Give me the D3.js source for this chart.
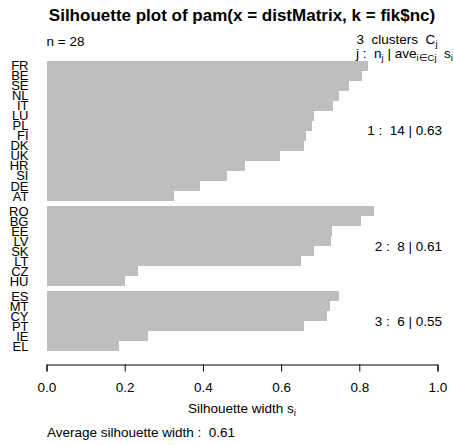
<!DOCTYPE html>
<html>
<head>
<meta charset="utf-8">
<script src="https://cdn.jsdelivr.net/npm/d3@7"></script>
<style>
  body { margin: 0; background: #fff; }
  text { font-family: "Liberation Sans", Arial, sans-serif; fill: #000; white-space: pre; }
</style>
</head>
<body>
<script>
var cluster1Names = ['FR','BE','SE','NL','IT','LU','PL','FI','DK','UK','HR','SI','DE','AT'];
var cluster1Widths = [0.821,0.806,0.773,0.748,0.734,0.685,0.679,0.664,0.658,0.598,0.508,0.462,0.393,0.325];
var cluster2Names = ['RO','BG','EE','LV','SK','LT','CZ','HU'];
var cluster2Widths = [0.838,0.804,0.731,0.728,0.685,0.651,0.234,0.202];
var cluster3Names = ['ES','MT','CY','PT','IE','EL'];
var cluster3Widths = [0.747,0.725,0.717,0.659,0.260,0.185];

var clusterSizes = [14, 8, 6];
var clusterAvg = ['0.63', '0.61', '0.55'];
var avgWidth = '0.61';
var xTicks = [0, 0.2, 0.4, 0.6, 0.8, 1.0];

var names = [cluster1Names, cluster2Names, cluster3Names];
var widths = [cluster1Widths, cluster2Widths, cluster3Widths];

// rows in bar units, half a bar of space between clusters
var rows = [];
var clusterPos = [];
var pos = 0;
for (var k = 0; k < names.length; k++) {
  if (k > 0) pos += 0.5;
  var start = pos;
  for (var i = 0; i < names[k].length; i++) {
    rows.push({ name: names[k][i], w: widths[k][i], pos: pos, cluster: k });
    pos += 1;
  }
  clusterPos.push({ j: k + 1, mid: (start + pos) / 2 });
}

var svg = d3.select('body').append('svg')
  .attr('width', 454)
  .attr('height', 445);

var x = d3.scaleLinear().domain([0, 1]).range([46.5, 437.5]);
var y = d3.scaleLinear().domain([0, pos]).range([60.5, 351]);

svg.selectAll('rect.bar').data(rows)
  .enter()
  .append('rect')
  .attr('class', 'bar')
  .attr('x', x(0))
  .attr('y', function(d) { return y(d.pos); })
  .attr('width', function(d) { return x(d.w) - x(0); })
  .attr('height', function(d) { return y(d.pos + 1) - y(d.pos); })
  .attr('fill', '#bebebe')
  .attr('shape-rendering', 'crispEdges');

svg.selectAll('text.name').data(rows)
  .enter()
  .append('text')
  .attr('class', 'name')
  .attr('x', 28.5)
  .attr('y', function(d) { return y(d.pos + 0.5) + 4.8; })
  .attr('text-anchor', 'end')
  .attr('font-size', '13px')
  .text(function(d) { return d.name; });

svg.selectAll('text.clus').data(clusterPos)
  .enter()
  .append('text')
  .attr('class', 'clus')
  .attr('x', 442)
  .attr('y', function(d) { return y(d.mid) + 4.8; })
  .attr('text-anchor', 'end')
  .attr('font-size', '13.5px')
  .text(function(d) { return d.j + ' :  ' + clusterSizes[d.j - 1] + ' | ' + clusterAvg[d.j - 1]; });

var axis = d3.axisBottom(x)
  .tickValues(xTicks)
  .tickFormat(d3.format('.1f'))
  .tickSize(7)
  .tickSizeOuter(7)
  .tickPadding(11);

var g = svg.append('g')
  .attr('transform', 'translate(0,364.5)')
  .call(axis);
g.selectAll('text')
  .attr('font-size', '13.5px')
  .attr('font-family', '"Liberation Sans", Arial, sans-serif')
  .attr('fill', '#000');
g.selectAll('line, path').attr('stroke', '#000');

svg.append('text')
  .attr('x', 242)
  .attr('y', 21)
  .attr('text-anchor', 'middle')
  .attr('font-size', '17px')
  .attr('font-weight', 'bold')
  .text('Silhouette plot of pam(x = distMatrix, k = fik$nc)');

svg.append('text')
  .attr('x', 46.5)
  .attr('y', 46)
  .attr('font-size', '13.5px')
  .text('n = 28');

var t1 = svg.append('text')
  .attr('x', 437.5)
  .attr('y', 43.5)
  .attr('text-anchor', 'end')
  .attr('font-size', '13.5px');
t1.append('tspan').text(clusterSizes.length + '  clusters  C');
t1.append('tspan').attr('dy', 3).attr('font-size', '9.5px').text('j');

var t2 = svg.append('text')
  .attr('x', 356)
  .attr('y', 57.5)
  .attr('font-size', '13.5px');
t2.append('tspan').text('j :  n');
t2.append('tspan').attr('dy', 3).attr('font-size', '9.5px').text('j');
t2.append('tspan').attr('dy', -3).text(' | ave');
t2.append('tspan').attr('dy', 3).attr('font-size', '9.5px').text('i\u2208Cj');
t2.append('tspan').attr('dy', -3).text('  s');
t2.append('tspan').attr('dy', 3).attr('font-size', '9.5px').text('i');

var t3 = svg.append('text')
  .attr('x', 242)
  .attr('y', 413)
  .attr('text-anchor', 'middle')
  .attr('font-size', '13.5px');
t3.append('tspan').text('Silhouette width s');
t3.append('tspan').attr('dy', 3).attr('font-size', '9.5px').text('i');

svg.append('text')
  .attr('x', 47)
  .attr('y', 437)
  .attr('font-size', '13.5px')
  .text('Average silhouette width :  ' + avgWidth);
</script>
</body>
</html>
